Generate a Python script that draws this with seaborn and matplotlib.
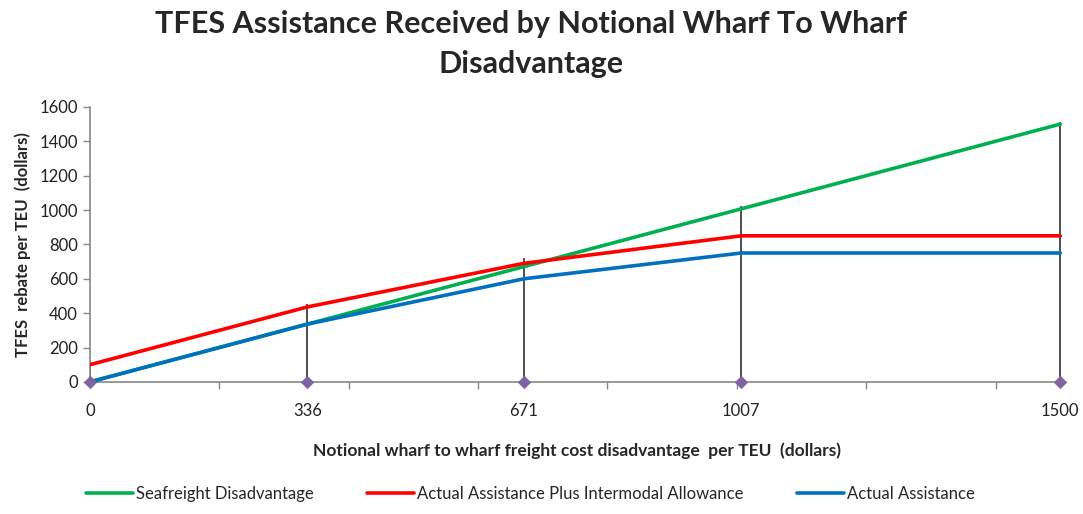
import matplotlib
matplotlib.use('Agg')
import matplotlib.pyplot as plt
import pandas as pd
import seaborn as sns

# Dados
disadvantage = [0, 336, 671, 1007, 1500]
seafreight = [0, 336, 671, 1007, 1500]
assist_plus = [100, 436, 690, 850, 850]
assist = [0, 336, 600, 750, 750]
drop_top = [120, 455, 720, 1025, 1510]
series_names = ['Seafreight Disadvantage',
                'Actual Assistance Plus Intermodal Allowance',
                'Actual Assistance']
colors = ['#00B050', '#FF0000', '#0070C0']

df = pd.DataFrame({
    'x': disadvantage * 3,
    'y': seafreight + assist_plus + assist,
    'serie': [s for s in series_names for _ in disadvantage],
})

sns.set_style('white')
plt.rcParams['font.family'] = ['Lato', 'DejaVu Sans']

fig = plt.figure(figsize=(10.83, 5.14), dpi=100)
ax = fig.add_axes([0.083, 0.257, 0.899, 0.535])

# Linhas verticais
ax.vlines(disadvantage, 0, drop_top, color='#404040', linewidth=1.3, zorder=1)

sns.lineplot(data=df, x='x', y='y', hue='serie', palette=colors,
             hue_order=series_names, linewidth=2.6, ax=ax, zorder=3)
sns.scatterplot(x=disadvantage, y=[0] * len(disadvantage), marker='D', s=40,
                color='#8064A2', edgecolor='#8064A2', ax=ax, zorder=4,
                legend=False, clip_on=False)

ax.set_xlim(0, 1505)
ax.set_ylim(0, 1600)
ax.set_yticks(range(0, 1601, 200))
ax.set_xticks(disadvantage)
ax.set_xticklabels([str(v) for v in disadvantage])
ax.set_xticks(range(200, 1500, 200), minor=True)
ax.tick_params(axis='x', which='major', length=0, pad=15, labelsize=12, colors='#222222')
ax.tick_params(axis='x', which='minor', length=5, width=1, color='#888888', direction='out', bottom=True)
ax.tick_params(axis='y', length=5, width=1, color='#888888', direction='out', left=True,
               labelsize=12, labelcolor='#222222')

for side in ['top', 'right']:
    ax.spines[side].set_visible(False)
for side in ['left', 'bottom']:
    ax.spines[side].set_color('#888888')
    ax.spines[side].set_linewidth(1.2)

ax.set_xlabel('Notional wharf to wharf freight cost disadvantage  per TEU  (dollars)',
              fontsize=12.5, fontweight='bold', labelpad=17)
ax.set_ylabel('TFES  rebate per TEU  (dollars)', fontsize=12, fontweight='bold', labelpad=6)

fig.suptitle('TFES Assistance Received by Notional Wharf To Wharf\nDisadvantage',
             fontsize=22, fontweight='bold', y=0.98, x=0.49, linespacing=1.5)

handles, labels = ax.get_legend_handles_labels()
ax.get_legend().remove()
fig.legend(handles, labels, loc='lower center', bbox_to_anchor=(0.49, -0.005), ncol=3,
           frameon=False, fontsize=12, handlelength=2.8, columnspacing=3.2, handletextpad=0.2)

fig.savefig('out.png', dpi=100)
